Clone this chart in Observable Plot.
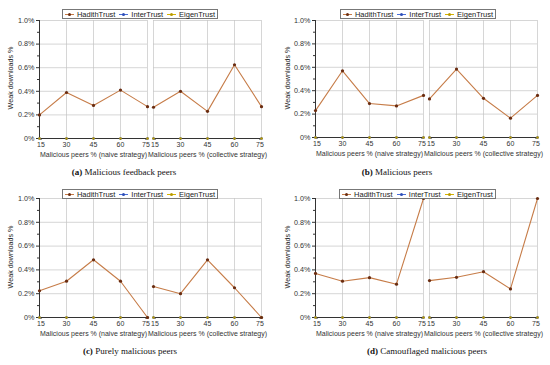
<!DOCTYPE html>
<html>
<head>
<meta charset="utf-8">
<script src="https://cdn.jsdelivr.net/npm/d3@7"></script>
<script src="https://cdn.jsdelivr.net/npm/@observablehq/plot@0.6"></script>
<style>
  html, body { margin: 0; padding: 0; background: #fff; }
  #root { position: relative; width: 550px; height: 365px; overflow: hidden; }
  .panel { position: absolute; }
  .legend { position: absolute; box-sizing: border-box; border: 1px solid #777; background: #fff;
            font: 7.5px "Liberation Sans", Arial, sans-serif; color: #222; display: flex; align-items: center;
            justify-content: space-around; white-space: nowrap; }
  .legend span.item { display: inline-flex; align-items: center; }
  .sw { position: relative; display: inline-block; width: 9px; height: 6px; margin-right: 3px; }
  .sw i { position: absolute; left: 0; right: 0; top: 2.5px; height: 1px; }
  .sw b { position: absolute; left: 3px; top: 1.5px; width: 3px; height: 3px; border-radius: 50%; }
  .caption { position: absolute; font: 9px "Liberation Serif", "DejaVu Serif", serif; color: #111; white-space: nowrap;
             transform: translateX(-50%); }
  .ylab { position: absolute; font: 7.2px "Liberation Sans", Arial, sans-serif; color: #222; white-space: nowrap;
          transform: translate(-50%, -50%) rotate(-90deg); }
</style>
</head>
<body>
<div id="root"></div>
<script>
// ---------- data ----------
const peers = [15, 30, 45, 60, 75];
const strategies = ["naive", "collective"];
const strategyLabels = ["Malicious peers % (naive strategy)", "Malicious peers % (collective strategy)"];
const seriesNames = ["HadithTrust", "InterTrust", "EigenTrust"];
const yTicks = [0, 0.2, 0.4, 0.6, 0.8, 1.0];
const yMinorTicks = [0.1, 0.3, 0.5, 0.7, 0.9];
const yTickLabels = ["0%", "0.2%", "0.4%", "0.6%", "0.8%", "1.0%"];
const yLabel = "Weak downloads %";

// HadithTrust weak downloads (%)
const hadithA_naive = [0.20, 0.39, 0.28, 0.41, 0.27];
const hadithA_collective = [0.265, 0.40, 0.23, 0.625, 0.27];
const hadithB_naive = [0.23, 0.57, 0.29, 0.27, 0.36];
const hadithB_collective = [0.33, 0.585, 0.335, 0.165, 0.36];
const hadithC_naive = [0.225, 0.305, 0.485, 0.305, 0.0];
const hadithC_collective = [0.26, 0.20, 0.485, 0.25, 0.0];
const hadithD_naive = [0.37, 0.305, 0.335, 0.28, 1.0];
const hadithD_collective = [0.31, 0.338, 0.385, 0.24, 1.0];
// InterTrust / EigenTrust (on the x axis)
const interTrust = [0, 0, 0, 0, 0];
const eigenTrust = [0, 0, 0, 0, 0];

const captionTags = ["(a)", "(b)", "(c)", "(d)"];
const captionTexts = ["Malicious feedback peers", "Malicious peers", "Purely malicious peers", "Camouflaged malicious peers"];

// ---------- styling / layout ----------
const lineColors = ["#c67c48", "#4a6fd8", "#d6b400"];
const dotColors = ["#6a2c10", "#2f4fb8", "#b89a00"];
const layout = [
  {left: 0,   top: 0,   mL: 38, mR: 13, mT: 20, mB: 27, legend: [62, 9, 156, 10],  cap: [124, 167], ylab: [10, 78]},
  {left: 275, top: 0,   mL: 40, mR: 12, mT: 20, mB: 28, legend: [340, 9, 156, 10], cap: [397, 167], ylab: [287, 78]},
  {left: 0,   top: 180, mL: 38, mR: 13, mT: 18, mB: 28, legend: [62, 189, 156, 10], cap: [130, 346], ylab: [10, 257]},
  {left: 275, top: 180, mL: 40, mR: 12, mT: 18, mB: 28, legend: [339, 189, 157, 10], cap: [427, 346], ylab: [287, 257]}
];
const panelsData = [
  [hadithA_naive, hadithA_collective],
  [hadithB_naive, hadithB_collective],
  [hadithC_naive, hadithC_collective],
  [hadithD_naive, hadithD_collective]
];

const root = document.getElementById("root");

function buildRows(naive, collective) {
  const rows = [];
  strategies.forEach((s, i) => {
    const h = i === 0 ? naive : collective;
    const vals = [h, interTrust, eigenTrust];
    [1, 2, 0].forEach(k => {
      peers.forEach((p, j) => rows.push({strategy: s, peers: p, series: seriesNames[k], value: vals[k][j]}));
    });
  });
  return rows;
}

const xAxisOpts = {anchor: "bottom", tickSize: 2, tickPadding: 2, stroke: "#333", fill: "#333", fontSize: 7, tickFormat: d => String(d)};

panelsData.forEach((pd, idx) => {
  const L = layout[idx];
  const rows = buildRows(pd[0], pd[1]);
  const others = rows.filter(d => d.series !== "HadithTrust");
  const hadith = rows.filter(d => d.series === "HadithTrust");
  const chart = Plot.plot({
    width: 275,
    height: 165,
    marginLeft: L.mL,
    marginRight: L.mR,
    marginTop: L.mT,
    marginBottom: L.mB,
    style: {fontFamily: "'Liberation Sans', Arial, sans-serif", fontSize: "7.2px", color: "#333", background: "transparent", overflow: "visible"},
    fx: {domain: strategies, paddingInner: 0.05, paddingOuter: 0, label: null, axis: null},
    x: {domain: [15, 75], label: null, axis: null},
    y: {domain: [0, 1], label: null, axis: null},
    color: {domain: seriesNames, range: lineColors},
    marks: [
      Plot.gridX(peers, {stroke: "#c4c4c4", strokeOpacity: 1, strokeWidth: 0.7}),
      Plot.gridY(yTicks, {stroke: "#c4c4c4", strokeOpacity: 1, strokeWidth: 0.7}),
      Plot.axisY(yMinorTicks, {anchor: "left", tickSize: 2, tickFormat: () => "", stroke: "#333"}),
      Plot.axisY(yTicks, {anchor: "left", tickSize: 3, tickPadding: 2, stroke: "#333", fill: "#333",
        tickFormat: d => yTickLabels[yTicks.indexOf(d)]}),
      Plot.axisX(peers.slice(1, -1), xAxisOpts),
      Plot.axisX(peers.slice(0, 1), {...xAxisOpts, dx: 1.5}),
      Plot.axisX(peers.slice(-1), {...xAxisOpts, dx: -1.5}),
      Plot.axisFx({anchor: "bottom", tickSize: 0, tickPadding: 14, label: null, fill: "#333", fontSize: 7,
        tickFormat: s => strategyLabels[strategies.indexOf(s)]}),
      Plot.line(others, {x: "peers", y: "value", fx: "strategy", z: "series", stroke: "series", strokeWidth: 1}),
      Plot.ruleY([0], {stroke: "#333", strokeWidth: 1.1}),
      Plot.ruleX([{x: 15, fx: "naive"}], {x: "x", fx: "fx", stroke: "#333", strokeWidth: 1}),
      Plot.dot(others, {x: "peers", y: "value", fx: "strategy", r: 1.3, stroke: null,
        fill: d => dotColors[seriesNames.indexOf(d.series)]}),
      Plot.line(hadith, {x: "peers", y: "value", fx: "strategy", stroke: "series", strokeWidth: 1.1}),
      Plot.dot(hadith, {x: "peers", y: "value", fx: "strategy", r: 1.6, stroke: null,
        fill: d => dotColors[seriesNames.indexOf(d.series)]})
    ]
  });
  const wrap = document.createElement("div");
  wrap.className = "panel";
  wrap.style.left = L.left + "px";
  wrap.style.top = L.top + "px";
  wrap.appendChild(chart);
  root.appendChild(wrap);

  const yl = document.createElement("div");
  yl.className = "ylab";
  yl.style.left = L.ylab[0] + "px";
  yl.style.top = L.ylab[1] + "px";
  yl.textContent = yLabel;
  root.appendChild(yl);

  const lg = document.createElement("div");
  lg.className = "legend";
  lg.style.left = L.legend[0] + "px";
  lg.style.top = L.legend[1] + "px";
  lg.style.width = L.legend[2] + "px";
  lg.style.height = L.legend[3] + "px";
  seriesNames.forEach((name, k) => {
    const it = document.createElement("span");
    it.className = "item";
    it.innerHTML = `<span class="sw"><i style="background:${lineColors[k]}"></i><b style="background:${dotColors[k]}"></b></span>${name}`;
    lg.appendChild(it);
  });
  root.appendChild(lg);

  const cp = document.createElement("div");
  cp.className = "caption";
  cp.style.left = L.cap[0] + "px";
  cp.style.top = L.cap[1] + "px";
  cp.innerHTML = `<b>${captionTags[idx]}</b> ${captionTexts[idx]}`;
  root.appendChild(cp);
});
</script>
</body>
</html>
